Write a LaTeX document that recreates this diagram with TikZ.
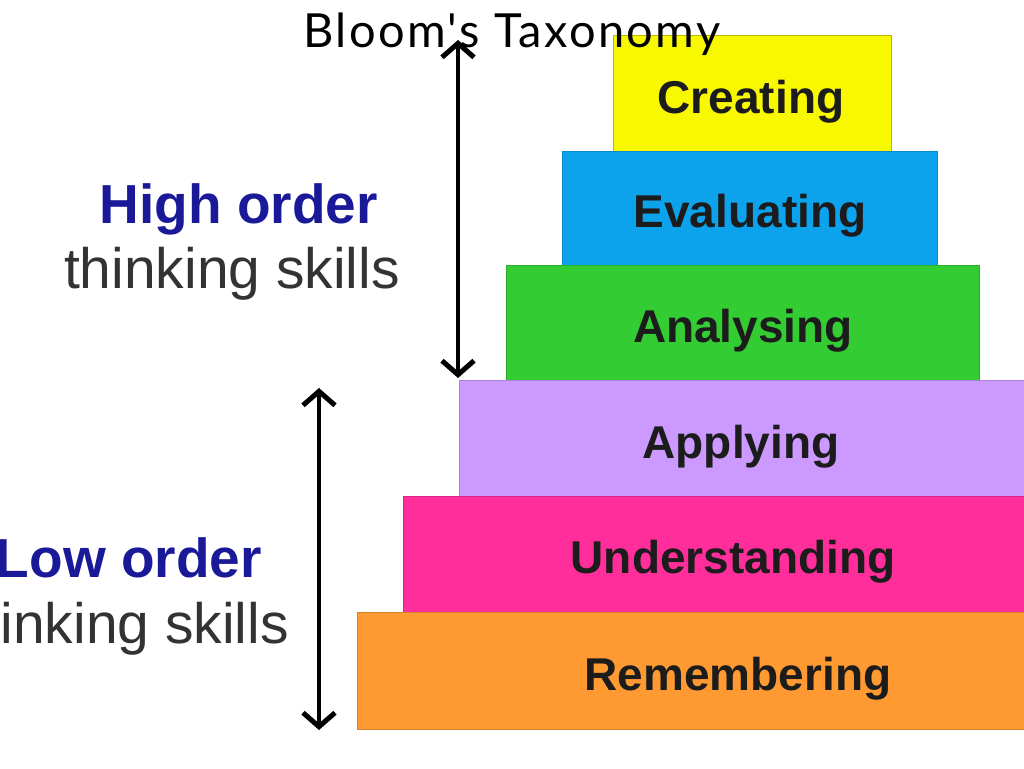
\documentclass[tikz,border=0pt]{standalone}
\usepackage{fontspec}
\setmainfont{Liberation Sans}
\newfontfamily\titlefont[LetterSpace=5]{Lato}
\usetikzlibrary{arrows.meta}
\definecolor{cYellow}{HTML}{F8F800}
\definecolor{cBlue}{HTML}{0CA2EC}
\definecolor{cGreen}{HTML}{33CC33}
\definecolor{cLav}{HTML}{CC99FF}
\definecolor{cPink}{HTML}{FF2E9A}
\definecolor{cOrange}{HTML}{FF9A33}
\definecolor{cNavy}{HTML}{1A1A99}
\definecolor{cGrayText}{HTML}{333333}
\definecolor{cLabel}{HTML}{1C1C1C}
\tikzset{
  tier/.style={line width=1pt},
  tierlabel/.style={anchor=base, inner sep=0pt, text=cLabel,
    font=\fontsize{46}{50}\selectfont\bfseries},
  ordertitle/.style={anchor=base east, inner sep=0pt, text=cNavy,
    font=\fontsize{55}{60}\selectfont\bfseries},
  ordersub/.style={anchor=base east, inner sep=0pt, text=cGrayText,
    font=\fontsize{57}{62}\selectfont},
  span/.style={line width=4.5pt, black,
    {Straight Barb[length=14pt,width=32pt,line width=5pt]}-{Straight Barb[length=14pt,width=32pt,line width=5pt]}},
}
\begin{document}
\begin{tikzpicture}[x=1pt,y=-1pt]
\useasboundingbox (0,0) rectangle (1024,768);
\clip (0,0) rectangle (1024,768);
\fill[white] (0,0) rectangle (1024,768);

% tiers
\path[tier, fill=cYellow, draw=cYellow!75!black] (613,36) rectangle (891,151);
\path[tier, fill=cBlue, draw=cBlue!85!black] (562,151) rectangle (937,265);
\path[tier, fill=cGreen, draw=cGreen!85!black] (506,265) rectangle (979,380);
\path[tier, fill=cLav, draw=cLav!85!black] (459,380) rectangle (1030,496);
\path[tier, fill=cPink, draw=cPink!85!black] (403,496) rectangle (1030,612);
\path[tier, fill=cOrange, draw=cOrange!85!black] (357,612) rectangle (1030,729);

% tier labels
\node[tierlabel] (creating) at (751,113) {Creating};
\node[tierlabel] (evaluating) at (750,227) {Evaluating};
\node[tierlabel] (analysing) at (743,342) {Analysing};
\node[tierlabel] (applying) at (741,458) {Applying};
\node[tierlabel] (understanding) at (733,573) {Understanding};
\node[tierlabel] (remembering) at (738,690) {Remembering};

% side labels
\node[ordertitle] (high) at (378,223) {High order};
\node[ordersub] (highsub) at (400,288) {thinking skills};
\node[ordertitle] (low) at (262,577) {Low order};
\node[ordersub] (lowsub) at (289,643) {thinking skills};

% span arrows
\coordinate (hightop) at (458,40);
\coordinate (highbot) at (458,378);
\coordinate (lowtop) at (319,388);
\coordinate (lowbot) at (319,730);
\draw[span] (highbot) -- (hightop);
\draw[span] (lowtop) -- (lowbot);

% title
\node[anchor=base, inner sep=0pt, font=\titlefont\fontsize{47}{52}\selectfont] (title) at (512,48) {Bloom's Taxonomy};
\end{tikzpicture}
\end{document}
